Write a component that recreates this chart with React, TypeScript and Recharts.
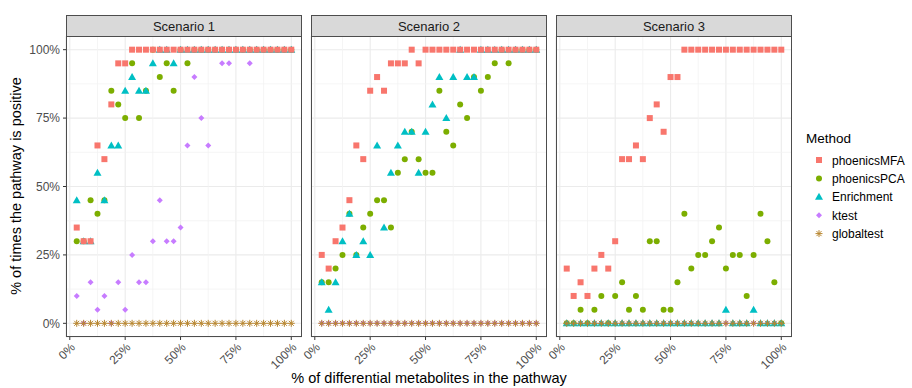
import React from 'react';
import { ScatterChart, Scatter, XAxis, YAxis, CartesianGrid, ReferenceLine } from 'recharts';

// share of differential metabolites (k / 32)
const xPct = [
  3.125, 6.25, 9.375, 12.5, 15.625, 18.75, 21.875, 25, 28.125, 31.25, 34.375, 37.5, 40.625, 43.75, 46.875, 50,
  53.125, 56.25, 59.375, 62.5, 65.625, 68.75, 71.875, 75, 78.125, 81.25, 84.375, 87.5, 90.625, 93.75, 96.875, 100,
];

// Scenario 1
const s1MFA = [35, 30, 30, 65, 60, 80, 95, 95, 100, 100, 100, 100, 100, 100, 100, 100, 100, 100, 100, 100, 100, 100, 100, 100, 100, 100, 100, 100, 100, 100, 100, 100];
const s1PCA = [30, 30, 45, 40, 45, 85, 80, 75, 95, 75, 85, 100, 90, 95, 85, 100, 95, 100, 100, 100, 100, 100, 100, 100, 100, 100, 100, 100, 100, 100, 100, 100];
const s1Enrich = [45, 30, 30, 55, 45, 65, 65, 85, 90, 85, 85, 95, 100, 100, 95, 100, 100, 100, 100, 100, 100, 100, 100, 100, 100, 100, 100, 100, 100, 100, 100, 100];
const s1Ktest = [10, 0, 15, 5, 10, 0, 15, 5, 25, 15, 15, 30, 45, 30, 30, 35, 65, 90, 75, 65, 100, 95, 95, 100, 100, 95, 100, 100, 100, 100, 100, 100];
const s1Global = [0, 0, 0, 0, 0, 0, 0, 0, 0, 0, 0, 0, 0, 0, 0, 0, 0, 0, 0, 0, 0, 0, 0, 0, 0, 0, 0, 0, 0, 0, 0, 0];

// Scenario 2
const s2MFA = [25, 20, 30, 35, 45, 65, 60, 85, 90, 85, 95, 95, 95, 100, 95, 100, 100, 100, 100, 100, 100, 100, 100, 100, 100, 100, 100, 100, 100, 100, 100, 100];
const s2PCA = [15, 15, 20, 25, 40, 25, 35, 40, 45, 45, 35, 55, 60, 70, 60, 55, 55, 85, 70, 65, 80, 75, 90, 85, 90, 95, 100, 95, 100, 100, 100, 100];
const s2Enrich = [15, 5, 15, 30, 40, 25, 30, 25, 65, 35, 55, 65, 70, 70, 55, 70, 80, 90, 75, 90, 100, 90, 90, 100, 100, 100, 100, 100, 100, 100, 100, 100];
const s2Ktest = [0, 0, 0, 0, 0, 0, 0, 0, 0, 0, 0, 0, 0, 0, 0, 0, 0, 0, 0, 0, 0, 0, 0, 0, 0, 0, 0, 0, 0, 0, 0, 0];
const s2Global = [0, 0, 0, 0, 0, 0, 0, 0, 0, 0, 0, 0, 0, 0, 0, 0, 0, 0, 0, 0, 0, 0, 0, 0, 0, 0, 0, 0, 0, 0, 0, 0];

// Scenario 3
const s3MFA = [20, 10, 15, 10, 20, 25, 20, 30, 60, 60, 65, 60, 75, 80, 70, 90, 90, 100, 100, 100, 100, 100, 100, 100, 100, 100, 100, 100, 100, 100, 100, 100];
const s3PCA = [0, 0, 5, 0, 5, 10, 0, 10, 15, 5, 10, 5, 30, 30, 5, 5, 15, 40, 20, 25, 25, 30, 35, 20, 25, 25, 10, 25, 40, 30, 15, 0];
const s3Enrich = [0, 0, 0, 0, 0, 0, 0, 0, 0, 0, 0, 0, 0, 0, 0, 0, 0, 0, 0, 0, 0, 0, 0, 5, 0, 0, 0, 5, 0, 0, 0, 0];
const s3Ktest = [0, 0, 0, 0, 0, 0, 0, 0, 0, 0, 0, 0, 0, 0, 0, 0, 0, 0, 0, 0, 0, 0, 0, 0, 0, 0, 0, 0, 0, 0, 0, 0];
const s3Global = [0, 0, 0, 0, 0, 0, 0, 0, 0, 0, 0, 0, 0, 0, 0, 0, 0, 0, 0, 0, 0, 0, 0, 0, 0, 0, 0, 0, 0, 0, 0, 0];

const majorTicks = [0, 25, 50, 75, 100];
const minorTicks = [12.5, 37.5, 62.5, 87.5];

const methods = ['phoenicsMFA', 'phoenicsPCA', 'Enrichment', 'ktest', 'globaltest'];
// drawing order: later series sit on top
const drawOrder = ['ktest', 'phoenicsPCA', 'Enrichment', 'phoenicsMFA', 'globaltest'];

const colors: Record<string, string> = {
  phoenicsMFA: '#F8766D',
  phoenicsPCA: '#7CAE00',
  Enrichment: '#00BFC4',
  ktest: '#C77CFF',
  globaltest: '#B8862F',
};

const scenarios = [
  { title: 'Scenario 1', series: { phoenicsMFA: s1MFA, phoenicsPCA: s1PCA, Enrichment: s1Enrich, ktest: s1Ktest, globaltest: s1Global } },
  { title: 'Scenario 2', series: { phoenicsMFA: s2MFA, phoenicsPCA: s2PCA, Enrichment: s2Enrich, ktest: s2Ktest, globaltest: s2Global } },
  { title: 'Scenario 3', series: { phoenicsMFA: s3MFA, phoenicsPCA: s3PCA, Enrichment: s3Enrich, ktest: s3Ktest, globaltest: s3Global } },
] as { title: string; series: Record<string, number[]> }[];

const FONT = '"Liberation Sans", Arial, sans-serif';
const PANEL_TOP = 36;
const PANEL_H = 301;
const PANEL_W = 236;
const STRIP_H = 21;
const panelLefts = [66, 311, 556];
const Y_AXIS_W = 60;
const LEFT_PAD = 30; // room for the rotated "0%" label on panels without a y axis
const X_AXIS_H = 45;

const pct = (v: number) => `${v}%`;

function marker(method: string, cx: number, cy: number, key?: string) {
  const c = colors[method];
  switch (method) {
    case 'phoenicsMFA':
      return <rect key={key} x={cx - 3} y={cy - 3} width={6} height={6} fill={c} />;
    case 'phoenicsPCA':
      return <circle key={key} cx={cx} cy={cy} r={3} fill={c} />;
    case 'Enrichment':
      return <polygon key={key} points={`${cx},${cy - 4} ${cx + 4},${cy + 3} ${cx - 4},${cy + 3}`} fill={c} />;
    case 'ktest':
      return <polygon key={key} points={`${cx},${cy - 3} ${cx + 3},${cy} ${cx},${cy + 3} ${cx - 3},${cy}`} fill={c} />;
    default: {
      const r = 3.5;
      const d = 2.5;
      return (
        <g key={key} stroke={c} strokeWidth={1}>
          <line x1={cx - r} y1={cy} x2={cx + r} y2={cy} />
          <line x1={cx} y1={cy - r} x2={cx} y2={cy + r} />
          <line x1={cx - d} y1={cy - d} x2={cx + d} y2={cy + d} />
          <line x1={cx - d} y1={cy + d} x2={cx + d} y2={cy - d} />
        </g>
      );
    }
  }
}

function Panel({ index }: { index: number }) {
  const sc = scenarios[index];
  const showY = index === 0;
  const pad = showY ? Y_AXIS_W : LEFT_PAD;
  const left = panelLefts[index] - pad;
  const width = PANEL_W + pad;

  return (
    <>
      <div
        style={{
          position: 'absolute',
          left: panelLefts[index],
          top: PANEL_TOP - STRIP_H,
          width: PANEL_W,
          height: STRIP_H,
          boxSizing: 'border-box',
          background: '#D9D9D9',
          border: '1px solid #4D4D4D',
          borderBottom: 'none',
          font: `13px ${FONT}`,
          color: '#1A1A1A',
          textAlign: 'center',
          lineHeight: `${STRIP_H}px`,
        }}
      >
        {sc.title}
      </div>
      <div style={{ position: 'absolute', left, top: PANEL_TOP }}>
        <ScatterChart
          width={width}
          height={PANEL_H + X_AXIS_H}
          margin={{ top: 0, right: 0, bottom: 0, left: showY ? 0 : LEFT_PAD }}
        >
          <CartesianGrid stroke="#EBEBEB" strokeWidth={1.1} />
          {minorTicks.map((v) => (
            <ReferenceLine key={`vx${v}`} x={v} stroke="#F3F3F3" strokeWidth={0.8} />
          ))}
          {minorTicks.map((v) => (
            <ReferenceLine key={`hy${v}`} y={v} stroke="#F3F3F3" strokeWidth={0.8} />
          ))}
          <XAxis
            type="number"
            dataKey="x"
            domain={[-1.72, 104.84]}
            ticks={majorTicks}
            tickFormatter={pct}
            height={X_AXIS_H}
            axisLine={false}
            tickSize={3}
            tickLine={{ stroke: '#333333' }}
            angle={-45}
            textAnchor="end"
            tick={{ fill: '#4D4D4D', fontSize: 12, fontFamily: FONT }}
            interval={0}
          />
          <YAxis
            type="number"
            dataKey="y"
            domain={[-5, 105]}
            ticks={majorTicks}
            tickFormatter={pct}
            width={Y_AXIS_W}
            hide={!showY}
            axisLine={false}
            tickSize={3}
            tickMargin={3}
            tickLine={{ stroke: '#333333' }}
            tick={{ fill: '#4D4D4D', fontSize: 12, fontFamily: FONT }}
            interval={0}
          />
          {drawOrder.map((m) => (
            <Scatter
              key={m}
              name={m}
              data={xPct.map((x, i) => ({ x, y: sc.series[m][i] }))}
              fill={colors[m]}
              isAnimationActive={false}
              shape={(p: any) => marker(m, p.cx, p.cy)}
            />
          ))}
        </ScatterChart>
      </div>
      <div
        style={{
          position: 'absolute',
          left: panelLefts[index],
          top: PANEL_TOP,
          width: PANEL_W,
          height: PANEL_H,
          boxSizing: 'border-box',
          border: '1px solid #4D4D4D',
          pointerEvents: 'none',
        }}
      />
    </>
  );
}

export default function App() {
  return (
    <div
      style={{
        position: 'absolute',
        left: 0,
        top: 0,
        width: 912,
        height: 388,
        overflow: 'hidden',
        background: '#FFFFFF',
        fontFamily: FONT,
      }}
    >
      {scenarios.map((_, i) => (
        <Panel key={i} index={i} />
      ))}

      <svg width={912} height={388} style={{ position: 'absolute', left: 0, top: 0, pointerEvents: 'none' }}>
        <text x={429} y={383} textAnchor="middle" fontSize={14.5} fontFamily={FONT} fill="#000000">
          % of differential metabolites in the pathway
        </text>
        <text
          transform="translate(21,186) rotate(-90)"
          textAnchor="middle"
          fontSize={14.5}
          fontFamily={FONT}
          fill="#000000"
        >
          % of times the pathway is positive
        </text>

        <text x={806} y={143} fontSize={13.5} fontFamily={FONT} fill="#000000">
          Method
        </text>
        {methods.map((m, i) => {
          const cy = 160 + i * 18.4;
          return (
            <g key={m}>
              {marker(m, 819, cy)}
              <text x={832} y={cy + 4.5} fontSize={12} fontFamily={FONT} fill="#000000">
                {m}
              </text>
            </g>
          );
        })}
      </svg>
    </div>
  );
}
